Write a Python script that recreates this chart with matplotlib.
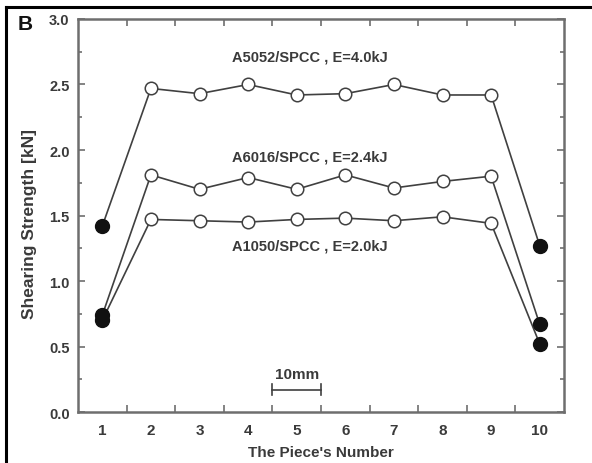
import numpy as np
import matplotlib.pyplot as plt
from matplotlib.lines import Line2D

plt.rcParams['font.family'] = ['Liberation Sans', 'DejaVu Sans']

pieces = [1, 2, 3, 4, 5, 6, 7, 8, 9, 10]

# shearing strength per piece [kN]
a5052 = [1.42, 2.47, 2.43, 2.50, 2.42, 2.43, 2.50, 2.42, 2.42, 1.27]
a6016 = [0.74, 1.81, 1.70, 1.79, 1.70, 1.81, 1.71, 1.76, 1.80, 0.67]
a1050 = [0.70, 1.47, 1.46, 1.45, 1.47, 1.48, 1.46, 1.49, 1.44, 0.52]

labels = ['A5052/SPCC , E=4.0kJ', 'A6016/SPCC , E=2.4kJ', 'A1050/SPCC , E=2.0kJ']
label_pos = [(5.27, 2.71), (5.27, 1.95), (5.27, 1.27)]

line_c = '#404040'
axis_c = '#6e6e6e'
text_c = '#3a3a3a'

fig = plt.figure(figsize=(5.92, 4.64), dpi=100)
ax = fig.add_axes([0.1318, 0.1099, 0.8209, 0.8470])

for ys in (a5052, a6016, a1050):
    ax.plot(pieces, ys, color=line_c, lw=1.2, zorder=2)
    # end pieces drawn filled, inner pieces open
    ax.plot(pieces[1:-1], ys[1:-1], 'o', ms=9, mfc='white', mec=line_c,
            mew=1.1, zorder=3)
    ax.plot([pieces[0], pieces[-1]], [ys[0], ys[-1]], 'o', ms=10,
            mfc='#111111', mec='#111111', zorder=4)

for txt, (x, y) in zip(labels, label_pos):
    ax.text(x, y, txt, ha='center', va='center', fontsize=10.5,
            fontweight='bold', color=text_c)

# 10 mm scale bar
ax.plot([4.5, 5.5], [0.17, 0.17], color=line_c, lw=1.2)
ax.plot([4.5, 4.5], [0.13, 0.21], color=line_c, lw=1.2)
ax.plot([5.5, 5.5], [0.13, 0.21], color=line_c, lw=1.2)
ax.text(5.0, 0.29, '10mm', ha='center', va='center', fontsize=11,
        fontweight='bold', color=text_c)

ax.set_xlim(0.5, 10.5)
ax.set_ylim(0, 3.0)

ax.set_xticks(np.arange(1.5, 10, 1.0))
ax.set_xticks(pieces, minor=True)
ax.set_xticklabels([])
ax.set_xticklabels([str(p) for p in pieces], minor=True)
ax.set_yticks(np.arange(0, 3.01, 0.5))
ax.set_yticks(np.arange(0.25, 3.0, 0.5), minor=True)
ax.set_yticklabels(['%.1f' % v for v in np.arange(0, 3.01, 0.5)])

ax.tick_params(axis='both', which='both', direction='in', colors=axis_c,
               labelcolor=text_c, top=True, right=True, width=1.2)
ax.tick_params(axis='x', which='major', length=5)
ax.tick_params(axis='x', which='minor', length=0, pad=8, labelsize=11)
ax.tick_params(axis='y', which='major', length=5, pad=6, labelsize=10.5)
ax.tick_params(axis='y', which='minor', length=3)
for lab in ax.get_xticklabels(minor=True) + ax.get_yticklabels():
    lab.set_fontweight('bold')

for s in ax.spines.values():
    s.set_color(axis_c)
    s.set_linewidth(1.8)

ax.set_xlabel("The Piece's Number", fontsize=11, fontweight='bold',
              color=text_c)
ax.set_ylabel('Shearing Strength [kN]', fontsize=12.5, fontweight='bold',
              color=text_c)
ax.xaxis.set_label_coords(0.5, -0.085)
ax.yaxis.set_label_coords(-0.084, 0.481)

# panel frame and letter
fig.add_artist(Line2D([6 / 592, 1.0], [1 - 8 / 464, 1 - 8 / 464],
                      transform=fig.transFigure, color='black', lw=2.2))
fig.add_artist(Line2D([6 / 592, 6 / 592], [0.0, 1 - 8 / 464],
                      transform=fig.transFigure, color='black', lw=2.2))
fig.text(18 / 592, 1 - 25 / 464, 'B', fontsize=15, fontweight='bold',
         va='center', ha='left', color='#111111')

fig.savefig('out.png', dpi=100)
